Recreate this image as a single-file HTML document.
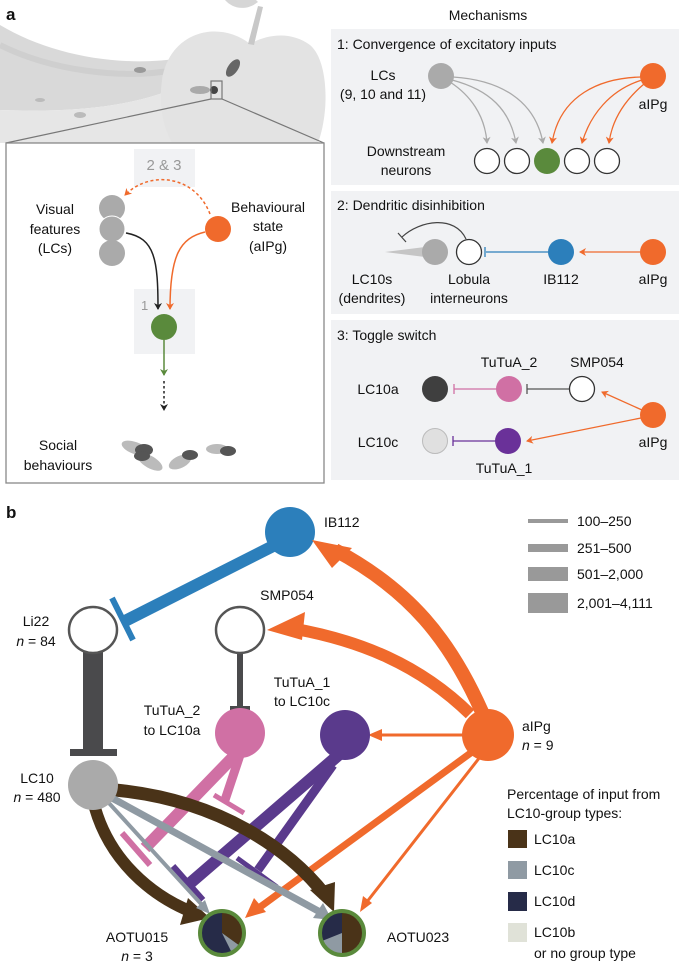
<!DOCTYPE html>
<html><head><meta charset="utf-8"><style>
html,body{margin:0;padding:0;background:#fff}
svg{display:block}
text{font-family:"Liberation Sans",sans-serif;fill:#111}
</style></head><body>
<svg width="685" height="962" viewBox="0 0 685 962" xmlns="http://www.w3.org/2000/svg">
<defs>
<marker id="ag" markerWidth="8" markerHeight="8" refX="6" refY="4" orient="auto" markerUnits="userSpaceOnUse"><path d="M0,0 L7,4 L0,8 L2,4Z" fill="#aaa"/></marker>
<marker id="ao" markerWidth="8" markerHeight="8" refX="6" refY="4" orient="auto" markerUnits="userSpaceOnUse"><path d="M0,0 L7,4 L0,8 L2,4Z" fill="#f06a2c"/></marker>
<marker id="ak" markerWidth="8" markerHeight="8" refX="6" refY="4" orient="auto" markerUnits="userSpaceOnUse"><path d="M0,0 L7,4 L0,8 L2,4Z" fill="#222"/></marker>
<marker id="agr" markerWidth="8" markerHeight="8" refX="6" refY="4" orient="auto" markerUnits="userSpaceOnUse"><path d="M0,0 L7,4 L0,8 L2,4Z" fill="#5a8a3c"/></marker>
<clipPath id="fr"><rect x="0" y="0" width="326" height="143"/></clipPath>
</defs>

<!-- fruit background -->
<g clip-path="url(#fr)">
<path d="M0,25 C50,55 120,68 182,58 C195,58 195,78 185,84 C130,110 60,112 0,110Z" fill="#d9d9d9"/>
<path d="M0,110 C60,112 130,110 185,84 L190,143 L0,143Z" fill="#e6e6e6"/>
<path d="M0,45 C50,70 120,80 175,70" fill="none" stroke="#cfcfcf" stroke-width="6"/>
<path d="M250,44 C220,20 170,30 162,80 C158,110 165,130 172,143 L318,143 C330,110 328,60 310,45 C290,30 265,35 250,44Z" fill="#e3e3e3"/>
<path d="M248,44 L258,6 L263,7 L254,45Z" fill="#c8c8c8"/>
<path d="M225,0 C232,8 245,12 258,2 L256,0Z" fill="#d6d6d6"/>
<ellipse cx="233" cy="68" rx="5" ry="10" fill="#666" transform="rotate(35 233 68)"/>
<ellipse cx="200" cy="90" rx="10" ry="4" fill="#aaa"/>
<circle cx="214" cy="90" r="4" fill="#444"/>
<ellipse cx="140" cy="70" rx="6" ry="3" fill="#999"/>
<ellipse cx="40" cy="100" rx="5" ry="2" fill="#bbb"/>
<ellipse cx="80" cy="115" rx="6" ry="3" fill="#bbb"/>
</g>
<rect x="211" y="81" width="11" height="18" fill="none" stroke="#777" stroke-width="1.2"/>
<line x1="211" y1="99" x2="6" y2="143" stroke="#777" stroke-width="1.2"/>
<line x1="222" y1="99" x2="324" y2="143" stroke="#777" stroke-width="1.2"/>
<text x="6" y="20" font-size="17" font-weight="bold">a</text>

<!-- left box -->
<rect x="6" y="143" width="318" height="340" fill="#fff" stroke="#888" stroke-width="1.3"/>
<rect x="134" y="149" width="61" height="38" fill="#f1f2f4"/>
<text x="164" y="170" font-size="15" text-anchor="middle" style="fill:#999">2 &amp; 3</text>
<rect x="134" y="289" width="61" height="65" fill="#f1f2f4"/>
<text x="141" y="310" font-size="13" style="fill:#999">1</text>
<path d="M210,214 C195,175 150,170 125,195" fill="none" stroke="#f06a2c" stroke-width="1.5" stroke-dasharray="3,2.5" marker-end="url(#ao)"/>
<path d="M126,233 C155,238 158,260 158,309" fill="none" stroke="#222" stroke-width="1.5" marker-end="url(#ak)"/>
<path d="M205,232 C180,238 170,255 170,309" fill="none" stroke="#f06a2c" stroke-width="1.5" marker-end="url(#ao)"/>
<circle cx="112" cy="208" r="13" fill="#aaa"/>
<circle cx="112" cy="229" r="13" fill="#aaa" stroke="#fff" stroke-width="1"/>
<circle cx="112" cy="253" r="13" fill="#aaa"/>
<circle cx="218" cy="229" r="13" fill="#f06a2c"/>
<circle cx="164" cy="327" r="13" fill="#5a8a3c"/>
<line x1="164" y1="340" x2="164" y2="375" stroke="#5a8a3c" stroke-width="1.5" marker-end="url(#agr)"/>
<line x1="164" y1="381" x2="164" y2="410" stroke="#222" stroke-width="1.5" stroke-dasharray="2.5,2.5" marker-end="url(#ak)"/>
<g font-size="14" text-anchor="middle">
<text x="55" y="214">Visual</text><text x="55" y="234">features</text><text x="55" y="253">(LCs)</text>
<text x="268" y="212">Behavioural</text><text x="268" y="231">state</text><text x="268" y="251">(aIPg)</text>
<text x="58" y="450">Social</text><text x="58" y="470">behaviours</text>
</g>
<g>
<ellipse cx="135" cy="448" rx="14" ry="6" fill="#bbb" transform="rotate(20 135 448)"/>
<ellipse cx="144" cy="450" rx="9" ry="6" fill="#555"/>
<ellipse cx="150" cy="462" rx="14" ry="6" fill="#bbb" transform="rotate(30 150 462)"/>
<ellipse cx="142" cy="456" rx="8" ry="5" fill="#555"/>
<ellipse cx="180" cy="462" rx="12" ry="6" fill="#bbb" transform="rotate(-25 180 462)"/>
<ellipse cx="190" cy="455" rx="8" ry="5" fill="#555"/>
<ellipse cx="217" cy="449" rx="11" ry="5" fill="#bbb"/>
<ellipse cx="228" cy="451" rx="8" ry="5" fill="#555"/>
</g>

<!-- Mechanisms -->
<text x="488" y="20" font-size="14" text-anchor="middle">Mechanisms</text>
<rect x="331" y="29" width="348" height="156" fill="#f1f2f4"/>
<rect x="331" y="191" width="348" height="123" fill="#f1f2f4"/>
<rect x="331" y="320" width="348" height="160" fill="#f1f2f4"/>
<g font-size="14">
<text x="337" y="49">1: Convergence of excitatory inputs</text>
<text x="337" y="210">2: Dendritic disinhibition</text>
<text x="337" y="340">3: Toggle switch</text>
</g>
<path d="M450,82 C470,95 485,115 487,143" fill="none" stroke="#aaa" stroke-width="1.3" marker-end="url(#ag)"/>
<path d="M452,80 C490,90 510,110 516,143" fill="none" stroke="#aaa" stroke-width="1.3" marker-end="url(#ag)"/>
<path d="M453,77 C500,80 535,100 543,143" fill="none" stroke="#aaa" stroke-width="1.3" marker-end="url(#ag)"/>
<path d="M641,77 C600,78 560,95 552,143" fill="none" stroke="#f06a2c" stroke-width="1.3" marker-end="url(#ao)"/>
<path d="M642,80 C610,90 590,115 582,143" fill="none" stroke="#f06a2c" stroke-width="1.3" marker-end="url(#ao)"/>
<path d="M644,84 C625,100 612,120 609,143" fill="none" stroke="#f06a2c" stroke-width="1.3" marker-end="url(#ao)"/>
<circle cx="441" cy="76" r="13" fill="#aaa"/>
<circle cx="653" cy="76" r="13" fill="#f06a2c"/>
<circle cx="487" cy="161" r="12.5" fill="#fff" stroke="#333" stroke-width="1.3"/>
<circle cx="517" cy="161" r="12.5" fill="#fff" stroke="#333" stroke-width="1.3"/>
<circle cx="547" cy="161" r="13" fill="#5a8a3c"/>
<circle cx="577" cy="161" r="12.5" fill="#fff" stroke="#333" stroke-width="1.3"/>
<circle cx="607" cy="161" r="12.5" fill="#fff" stroke="#333" stroke-width="1.3"/>
<g font-size="14" text-anchor="middle">
<text x="383" y="80">LCs</text><text x="383" y="99">(9, 10 and 11)</text>
<text x="653" y="109">aIPg</text>
<text x="406" y="156">Downstream</text><text x="406" y="175">neurons</text>
</g>
<path d="M385,252 L425,247 L425,257Z" fill="#c5c5c5"/>
<path d="M466,239 C455,215 420,220 402,237" fill="none" stroke="#444" stroke-width="1.2"/>
<line x1="398" y1="233" x2="406" y2="242" stroke="#444" stroke-width="1.2"/>
<circle cx="435" cy="252" r="13" fill="#aaa"/>
<circle cx="469" cy="252" r="12.5" fill="#fff" stroke="#333" stroke-width="1.3"/>
<line x1="486" y1="252" x2="548" y2="252" stroke="#2c7fbb" stroke-width="1.3"/>
<line x1="485" y1="247" x2="485" y2="257" stroke="#2c7fbb" stroke-width="1.3"/>
<circle cx="561" cy="252" r="13" fill="#2c7fbb"/>
<line x1="640" y1="252" x2="580" y2="252" stroke="#f06a2c" stroke-width="1.3" marker-end="url(#ao)"/>
<circle cx="653" cy="252" r="13" fill="#f06a2c"/>
<g font-size="14" text-anchor="middle">
<text x="372" y="284">LC10s</text><text x="372" y="303">(dendrites)</text>
<text x="469" y="284">Lobula</text><text x="469" y="303">interneurons</text>
<text x="561" y="284">IB112</text><text x="653" y="284">aIPg</text>
</g>
<line x1="454" y1="389" x2="497" y2="389" stroke="#d070a4" stroke-width="1.3"/>
<line x1="454" y1="384" x2="454" y2="394" stroke="#d070a4" stroke-width="1.3"/>
<line x1="527" y1="389" x2="570" y2="389" stroke="#555" stroke-width="1.3"/>
<line x1="527" y1="384" x2="527" y2="394" stroke="#555" stroke-width="1.3"/>
<line x1="453" y1="441" x2="496" y2="441" stroke="#6a3199" stroke-width="1.3"/>
<line x1="453" y1="436" x2="453" y2="446" stroke="#6a3199" stroke-width="1.3"/>
<line x1="642" y1="410" x2="602" y2="392" stroke="#f06a2c" stroke-width="1.3" marker-end="url(#ao)"/>
<line x1="641" y1="418" x2="527" y2="441" stroke="#f06a2c" stroke-width="1.3" marker-end="url(#ao)"/>
<circle cx="435" cy="389" r="13" fill="#3f3f3f"/>
<circle cx="509" cy="389" r="13" fill="#d070a4"/>
<circle cx="582" cy="389" r="12.5" fill="#fff" stroke="#333" stroke-width="1.3"/>
<circle cx="435" cy="441" r="12.5" fill="#e0e0e0" stroke="#bbb" stroke-width="1"/>
<circle cx="508" cy="441" r="13" fill="#6a3199"/>
<circle cx="653" cy="415" r="13" fill="#f06a2c"/>
<g font-size="14" text-anchor="middle">
<text x="509" y="367">TuTuA_2</text><text x="597" y="367">SMP054</text>
<text x="378" y="394">LC10a</text><text x="378" y="447">LC10c</text>
<text x="504" y="473">TuTuA_1</text><text x="653" y="447">aIPg</text>
</g>

<!-- Panel b -->
<text x="6" y="518" font-size="17" font-weight="bold">b</text>
<rect x="528" y="519" width="40" height="4" fill="#999"/>
<rect x="528" y="544" width="40" height="8" fill="#999"/>
<rect x="528" y="567" width="40" height="14" fill="#999"/>
<rect x="528" y="593" width="40" height="20" fill="#999"/>
<g font-size="14">
<text x="577" y="526">100–250</text>
<text x="577" y="553">251–500</text>
<text x="577" y="579">501–2,000</text>
<text x="577" y="608">2,001–4,111</text>
</g>
<line x1="285" y1="540" x2="125" y2="621" stroke="#2c7fbb" stroke-width="12"/>
<line x1="112" y1="598" x2="133" y2="640" stroke="#2c7fbb" stroke-width="6"/>
<ellipse cx="290" cy="532" rx="25" ry="25" fill="#2c7fbb"/>
<rect x="83" y="652" width="20" height="98" fill="#4a4a4c"/>
<rect x="70" y="749" width="47" height="7" fill="#4a4a4c"/>
<rect x="237" y="652" width="6" height="56" fill="#4a4a4c"/>
<rect x="230" y="706" width="20" height="4" fill="#4a4a4c"/>
<path d="M482,712 C450,640 410,590 335,550" fill="none" stroke="#f06a2c" stroke-width="14"/>
<path d="M312,540 L352,548 L332,568 Z" fill="#f06a2c"/>
<path d="M470,714 C420,665 360,640 290,628" fill="none" stroke="#f06a2c" stroke-width="12"/>
<path d="M267,630 L305,612 L302,640 Z" fill="#f06a2c"/>
<line x1="463" y1="735" x2="375" y2="735" stroke="#f06a2c" stroke-width="3"/>
<path d="M368,735 L382,729 L382,741Z" fill="#f06a2c"/>
<line x1="472" y1="752" x2="256" y2="910" stroke="#f06a2c" stroke-width="7"/>
<path d="M245,918 L254,898 L266,912Z" fill="#f06a2c"/>
<line x1="480" y1="757" x2="366" y2="903" stroke="#f06a2c" stroke-width="3"/>
<path d="M360,912 L363,896 L372,903Z" fill="#f06a2c"/>
<circle cx="488" cy="735" r="26" fill="#f06a2c"/>
<path d="M238,752 L145,848" stroke="#d070a4" stroke-width="12" fill="none"/>
<path d="M122,833 L150,865" stroke="#d070a4" stroke-width="6"/>
<path d="M240,755 L225,800" stroke="#d070a4" stroke-width="9" fill="none"/>
<path d="M214,795 L244,813" stroke="#d070a4" stroke-width="5"/>
<circle cx="240" cy="733" r="25" fill="#d070a4"/>
<path d="M342,752 L188,885" stroke="#5a3a8c" stroke-width="12" fill="none"/>
<path d="M173,866 L203,900" stroke="#5a3a8c" stroke-width="6"/>
<path d="M333,765 L258,870" stroke="#5a3a8c" stroke-width="9" fill="none"/>
<path d="M237,858 L277,887" stroke="#5a3a8c" stroke-width="5"/>
<circle cx="345" cy="735" r="25" fill="#5a3a8c"/>
<path d="M115,790 C220,800 290,850 325,895" fill="none" stroke="#4a3318" stroke-width="13"/>
<path d="M334,912 L310,890 L335,882Z" fill="#4a3318"/>
<path d="M95,808 C110,860 150,895 192,912" fill="none" stroke="#4a3318" stroke-width="12"/>
<path d="M210,918 L180,925 L188,898Z" fill="#4a3318"/>
<line x1="112" y1="798" x2="320" y2="912" stroke="#8f9aa3" stroke-width="7"/>
<path d="M332,920 L313,918 L323,903Z" fill="#8f9aa3"/>
<line x1="108" y1="802" x2="203" y2="906" stroke="#8f9aa3" stroke-width="4"/>
<path d="M210,914 L196,908 L205,900Z" fill="#8f9aa3"/>
<circle cx="93" cy="785" r="25" fill="#aaa"/>
<ellipse cx="93" cy="630" rx="24" ry="23" fill="#fff" stroke="#555" stroke-width="2.5"/>
<ellipse cx="240" cy="630" rx="24" ry="23" fill="#fff" stroke="#555" stroke-width="2.5"/>
<g>
<circle cx="222" cy="933" r="22" fill="#262b48"/>
<path d="M222,933 L222,911 A22,22 0 0 1 240,946 Z" fill="#4a3318"/>
<path d="M222,933 L240,946 A22,22 0 0 1 232,953 Z" fill="#8f9aa3"/>
<circle cx="222" cy="933" r="22" fill="none" stroke="#5a8a3c" stroke-width="4"/>
<circle cx="342" cy="933" r="22" fill="#262b48"/>
<path d="M342,933 L342,911 A22,22 0 0 1 342,955 Z" fill="#4a3318"/>
<path d="M342,933 L342,955 A22,22 0 0 1 322,941 Z" fill="#8f9aa3"/>
<circle cx="342" cy="933" r="22" fill="none" stroke="#5a8a3c" stroke-width="4"/>
</g>
<g font-size="14" text-anchor="middle">
<text x="36" y="626">Li22</text><text x="36" y="646"><tspan font-style="italic">n</tspan> = 84</text>
<text x="287" y="600">SMP054</text>
<text x="172" y="715">TuTuA_2</text><text x="172" y="735">to LC10a</text>
<text x="302" y="687">TuTuA_1</text><text x="302" y="706">to LC10c</text>
<text x="37" y="783">LC10</text><text x="37" y="802"><tspan font-style="italic">n</tspan> = 480</text>
<text x="137" y="942">AOTU015</text><text x="137" y="961"><tspan font-style="italic">n</tspan> = 3</text>
<text x="418" y="942">AOTU023</text>
</g>
<g font-size="14">
<text x="324" y="527">IB112</text>
<text x="522" y="731">aIPg</text><text x="522" y="750"><tspan font-style="italic">n</tspan> = 9</text>
<text x="507" y="799">Percentage of input from</text>
<text x="507" y="818">LC10-group types:</text>
<text x="534" y="844">LC10a</text>
<text x="534" y="875">LC10c</text>
<text x="534" y="906">LC10d</text>
<text x="534" y="937">LC10b</text>
<text x="534" y="958">or no group type</text>
</g>
<rect x="508" y="830" width="19" height="18" fill="#4a3318"/>
<rect x="508" y="861" width="19" height="18" fill="#8f9aa3"/>
<rect x="508" y="892" width="19" height="19" fill="#262b48"/>
<rect x="508" y="923" width="19" height="19" fill="#e0e2d8"/>
</svg>
</body></html>
